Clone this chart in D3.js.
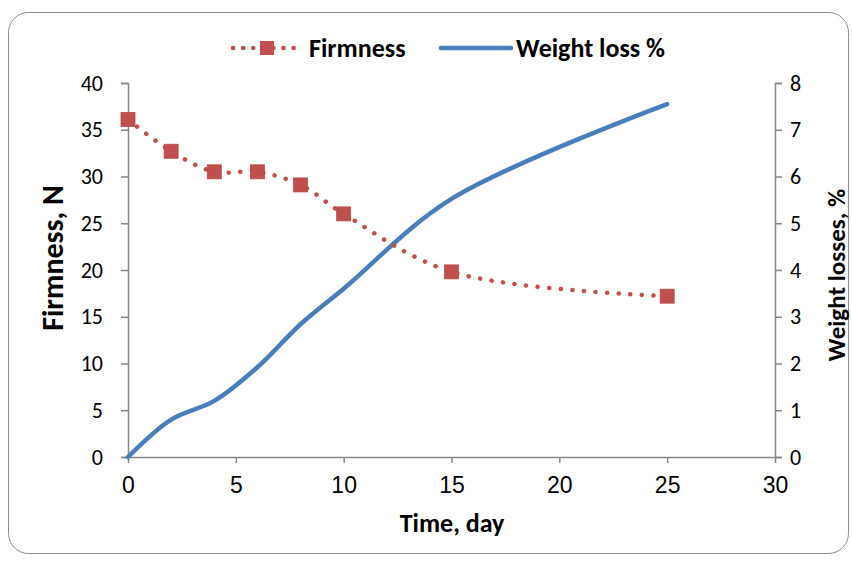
<!DOCTYPE html>
<html><head><meta charset="utf-8">
<script src="https://cdn.jsdelivr.net/npm/d3@7"></script>
<style>
body{margin:0;background:#fff;}
text{font-family:Carlito,Calibri,Lato,"Open Sans",sans-serif;}
</style></head>
<body><svg id="c" width="852" height="562"></svg>
<script>
const days = [0, 2, 4, 6, 8, 10, 15, 25];
const firmness = [36.1, 32.7, 30.5, 30.5, 29.1, 26.0, 19.8, 17.2];
const weightLoss = [0, 0.8, 1.2, 1.92, 2.84, 3.6, 5.52, 7.55];
const xTicks = [0, 5, 10, 15, 20, 25, 30];
const yLeftTicks = [0, 5, 10, 15, 20, 25, 30, 35, 40];
const yRightTicks = [0, 1, 2, 3, 4, 5, 6, 7, 8];
const seriesNames = ["Firmness", "Weight loss %"];
const titles = {x: "Time, day", yLeft: "Firmness, N", yRight: "Weight losses, %"};

const svg = d3.select("#c");
const red = "#c0504d", blue = "#4a7ebb", axisC = "#868686";
svg.append("rect").attr("x",8.5).attr("y",12.5).attr("width",840).attr("height",541)
  .attr("rx",20).attr("fill","#fff").attr("stroke","#8c8c8c").attr("stroke-width",1);

const x = d3.scaleLinear().domain([0,30]).range([128,775]);
const yL = d3.scaleLinear().domain([0,40]).range([457,83]);
const yR = d3.scaleLinear().domain([0,8]).range([457,83]);

function styleAxis(g, size, fam){
  g.select(".domain").attr("stroke",axisC).attr("stroke-width",1.5);
  g.selectAll(".tick line").attr("stroke",axisC).attr("stroke-width",1.5);
  g.selectAll(".tick text").attr("fill","#000").style("font-size",size).style("font-family",fam);
}
const gx = svg.append("g").attr("transform","translate(0,457)")
  .call(d3.axisBottom(x).tickValues(xTicks).tickSize(6).tickSizeOuter(0).tickPadding(14));
styleAxis(gx, "23px", "'Liberation Sans',Arial,sans-serif");
const gl = svg.append("g").attr("transform","translate(128,0)")
  .call(d3.axisLeft(yL).tickValues(yLeftTicks).tickSize(7).tickSizeOuter(7).tickPadding(18));
styleAxis(gl, "22px", "Carlito,Calibri,Lato,sans-serif");
const gr = svg.append("g").attr("transform","translate(775,0)")
  .call(d3.axisRight(yR).tickValues(yRightTicks).tickSize(7).tickSizeOuter(7).tickPadding(8));
styleAxis(gr, "22px", "Carlito,Calibri,Lato,sans-serif");

// weight loss line
const wData = days.map((d,i)=>[d, weightLoss[i]]);
svg.append("path").datum(wData)
  .attr("d", d3.line().x(d=>x(d[0])).y(d=>yR(d[1])).curve(d3.curveCatmullRom.alpha(0.5)))
  .attr("fill","none").attr("stroke",blue).attr("stroke-width",4.5).attr("stroke-linecap","round");

// firmness line
const fData = days.map((d,i)=>[d, firmness[i]]);
svg.append("path").datum(fData)
  .attr("d", d3.line().x(d=>x(d[0])).y(d=>yL(d[1])).curve(d3.curveCatmullRom.alpha(0.5)))
  .attr("fill","none").attr("stroke",red).attr("stroke-width",4.5)
  .attr("stroke-linecap","round").attr("stroke-dasharray","0.1 11.5");
svg.selectAll("rect.m").data(fData).enter().append("rect").attr("class","m")
  .attr("x",d=>x(d[0])-7).attr("y",d=>yL(d[1])-7).attr("width",14).attr("height",14)
  .attr("fill",red).attr("stroke","#b84a47").attr("stroke-width",0.8);

// axis titles
svg.append("text").attr("x",452).attr("y",532).attr("text-anchor","middle")
  .style("font-size","26px").style("font-weight","bold").text(titles.x);
svg.append("text").attr("transform","translate(63,258) rotate(-90)").attr("text-anchor","middle")
  .style("font-size","30px").style("font-weight","bold").text(titles.yLeft);
svg.append("text").attr("transform","translate(845,275) rotate(-90)").attr("text-anchor","middle")
  .style("font-size","25px").style("font-weight","bold").text(titles.yRight);

// legend
const lg = svg.append("g");
lg.append("line").attr("x1",233).attr("x2",298).attr("y1",48).attr("y2",48)
  .attr("stroke",red).attr("stroke-width",4.5).attr("stroke-linecap","round").attr("stroke-dasharray","0.1 10");
lg.append("rect").attr("x",260).attr("y",41).attr("width",14).attr("height",14).attr("fill",red);
lg.append("text").attr("x",309).attr("y",57).style("font-size","26px").style("font-weight","bold").text(seriesNames[0]);
lg.append("line").attr("x1",441).attr("x2",511).attr("y1",48).attr("y2",48)
  .attr("stroke",blue).attr("stroke-width",4.5).attr("stroke-linecap","round");
lg.append("text").attr("x",516).attr("y",57).style("font-size","26px").style("font-weight","bold").text(seriesNames[1]);
</script></body></html>
